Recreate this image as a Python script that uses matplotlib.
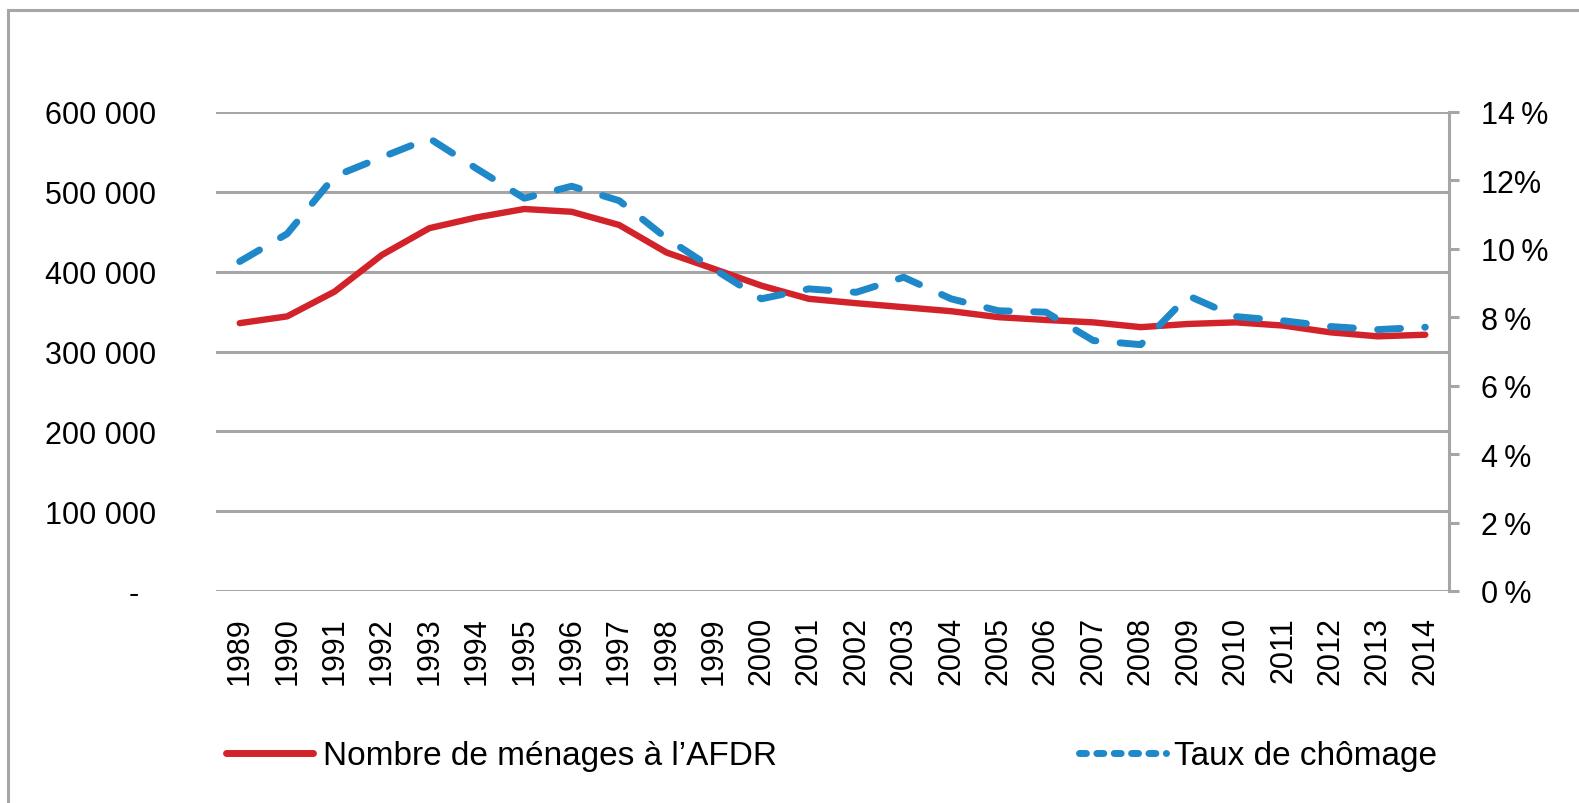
import numpy as np
import matplotlib.pyplot as plt
from matplotlib.lines import Line2D
from matplotlib.patches import Rectangle

plt.rcParams['font.family'] = ['Liberation Sans', 'DejaVu Sans']

years = [str(y) for y in range(1989, 2015)]
menages = [335500, 344000, 375000, 421000, 454500, 468000, 478500, 475000,
           458500, 424000, 403500, 382500, 366000, 360500, 355500, 350500,
           343000, 339500, 336500, 330500, 334500, 336500, 332500, 324000,
           319000, 321000]
chomage = [9.63, 10.44, 12.12, 12.68, 13.23, 12.34, 11.48, 11.83, 11.41,
           10.31, 9.41, 8.54, 8.83, 8.73, 9.17, 8.54, 8.19, 8.15, 7.32, 7.20,
           8.63, 8.02, 7.90, 7.73, 7.64, 7.71]
left_ticks = [0, 100000, 200000, 300000, 400000, 500000, 600000]
left_labels = ['-  ', '100 000', '200 000', '300 000', '400 000', '500 000', '600 000']
right_ticks = [0, 2, 4, 6, 8, 10, 12, 14]
right_labels = ['0\u2009%', '2\u2009%', '4\u2009%', '6\u2009%', '8\u2009%', '10\u2009%', '12%', '14\u2009%']

red = '#d2232a'
blue = '#1e88c8'
grey = '#a6a6a6'

fig = plt.figure(figsize=(15.79, 8.04), dpi=100)
W, H = 1579, 804
ax = fig.add_axes([216 / W, 1 - 592 / H, (1449 - 216) / W, (592 - 113) / H])

# outer frame
fig.patches.append(Rectangle((8 / W, -0.1), 1.2, 1 - 11 / H + 0.1, transform=fig.transFigure,
                             fill=False, edgecolor=grey, linewidth=2.2))

x = np.arange(len(years))
ax.plot(x, menages, color=red, lw=4.6, solid_capstyle='round', zorder=3)
ax.set_xlim(-0.5, len(years) - 0.5)
ax.set_ylim(0, 600000)
ax.set_yticks(left_ticks)
ax.set_yticklabels(left_labels)
ax.yaxis.grid(True, color=grey, lw=2.2)
ax.set_axisbelow(True)
for s in ax.spines.values():
    s.set_visible(False)
ax.tick_params(axis='y', length=0, pad=43, labelsize=22)
ax.set_xticks(x)
ax.set_xticklabels(years, rotation=90)
ax.tick_params(axis='x', length=0, pad=18, labelsize=22)

ax2 = ax.twinx()
ax2.plot(x, chomage, color=blue, lw=5, linestyle=(0, (3.3, 3.5)),
         dash_capstyle='round', solid_capstyle='round')
ax2.set_ylim(0, 14)
ax2.set_yticks(right_ticks)
ax2.set_yticklabels(right_labels)
for s in ax2.spines.values():
    s.set_visible(False)
ax2.spines['right'].set_visible(True)
ax2.spines['right'].set_color(grey)
ax2.spines['right'].set_linewidth(2.2)
ax2.tick_params(axis='y', direction='out', length=7, width=2.2, color=grey,
                pad=16, labelsize=22)

h1 = Line2D([], [], color=red, lw=5, solid_capstyle='round')
h2 = Line2D([], [], color=blue, lw=5, linestyle=(0, (1.0, 1.5)), dash_capstyle='round')
fig.legend([h1], ['Nombre de ménages à l\u2019AFDR'], loc='center left',
           bbox_to_anchor=(226 / W, 1 - 757 / H), frameon=False, borderpad=0,
           borderaxespad=0, handlelength=2.6, handletextpad=0.3, fontsize=24)
fig.legend([h2], ['Taux de chômage'], loc='center left',
           bbox_to_anchor=(1079 / W, 1 - 757 / H), frameon=False, borderpad=0,
           borderaxespad=0, handlelength=2.6, handletextpad=0.25, fontsize=24)

fig.savefig('out.png', dpi=100)
